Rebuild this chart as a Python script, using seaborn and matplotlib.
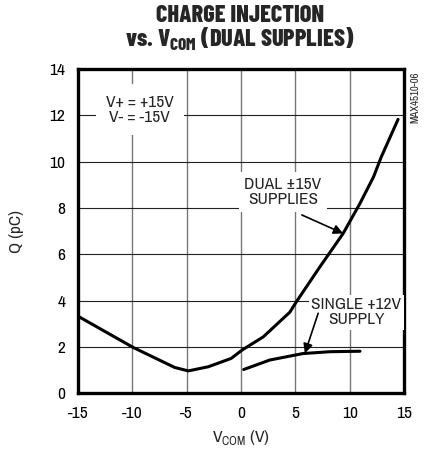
import matplotlib
matplotlib.use("Agg")
import matplotlib.pyplot as plt
import seaborn as sns
import pandas as pd

# ---- data ----
dual_v = [-14.9, -9.9, -6.1, -4.85, -3.0, -0.9, 0.1, 2.05, 4.5, 5.1, 7.25,
          9.4, 10.95, 12.2, 12.9, 14.45]
dual_q = [3.3, 1.97, 1.11, 0.96, 1.14, 1.5, 1.86, 2.43, 3.5, 3.95, 5.45,
          6.9, 8.2, 9.35, 10.2, 11.83]
single_v = [0.25, 2.65, 5.7, 8.2, 10.95]
single_q = [1.02, 1.43, 1.71, 1.79, 1.81]
x_ticks = [-15, -10, -5, 0, 5, 10, 15]
y_ticks = [0, 2, 4, 6, 8, 10, 12, 14]

sns.set_theme(style="white")
BODY = "Archivo Narrow"
TITLE = "Barlow Condensed"
plt.rcParams["font.family"] = [BODY, "DejaVu Sans"]
plt.rcParams["mathtext.fontset"] = "custom"
plt.rcParams["mathtext.rm"] = BODY
plt.rcParams["mathtext.bf"] = TITLE + ":heavy"

dual = pd.DataFrame({"V": dual_v, "Q": dual_q})
single = pd.DataFrame({"V": single_v, "Q": single_q})

fig = plt.figure(figsize=(4.28, 4.55), dpi=100)
ax = fig.add_axes([0.182, 0.136, 0.762, 0.712])

sns.lineplot(data=dual, x="V", y="Q", ax=ax, color="black", linewidth=2.2)
sns.lineplot(data=single, x="V", y="Q", ax=ax, color="black", linewidth=2.2)

FS = 12.5
ax.set_xlim(-15, 15)
ax.set_ylim(0, 14)
ax.set_xticks(x_ticks)
ax.set_yticks(y_ticks)
ax.set_xticklabels([str(t) for t in x_ticks], fontsize=FS)
ax.set_yticklabels([str(t) for t in y_ticks], fontsize=FS)
ax.tick_params(axis="y", length=0, pad=9, colors="black")
ax.tick_params(axis="x", length=0, pad=9, colors="black")
for t in x_ticks[1:-1]:
    ax.axvline(t, color="#777777", linewidth=1.0, zorder=0)
for t in y_ticks[1:-1]:
    ax.axhline(t, color="#222222", linewidth=0.8, zorder=0)
for s in ax.spines.values():
    s.set_linewidth(2.4)
    s.set_color("black")
    s.set_visible(True)

ax.set_xlabel(r"V$_{\mathrm{COM}}$ (V)", fontsize=FS, labelpad=5)
ax.set_ylabel("Q (pC)", fontsize=FS, labelpad=18)

fig.text(0.56, 0.964, "CHARGE INJECTION", ha="center", va="center",
         fontsize=17.5, fontweight="heavy", family=TITLE)
fig.text(0.561, 0.914, r"vs. V$_{\mathbf{COM}}$ (DUAL SUPPLIES)", ha="center",
         va="center", fontsize=17.5, fontweight="heavy", family=TITLE)

ax.text(-9.3, 12.25, "V+ = +15V\nV- = -15V", ha="center", va="center",
        fontsize=FS, linespacing=1.0,
        bbox=dict(facecolor="white", edgecolor="none", boxstyle="square,pad=0.6"))
ax.text(3.85, 8.7, "DUAL ±15V\nSUPPLIES", ha="center", va="center",
        fontsize=FS, linespacing=1.0,
        bbox=dict(facecolor="white", edgecolor="none", boxstyle="square,pad=0.3"))
ax.text(10.6, 3.5, "SINGLE +12V\nSUPPLY", ha="center", va="center",
        fontsize=FS, linespacing=1.0,
        bbox=dict(facecolor="white", edgecolor="none", boxstyle="square,pad=0.15"))
ax.annotate("", xy=(9.4, 6.9), xytext=(5.6, 7.7),
            arrowprops=dict(arrowstyle="-|>", color="black", lw=1.2,
                            mutation_scale=14, shrinkA=0, shrinkB=0))
ax.annotate("", xy=(5.88, 1.72), xytext=(7.1, 3.45),
            arrowprops=dict(arrowstyle="-|>", color="black", lw=1.2,
                            mutation_scale=14, shrinkA=0, shrinkB=0))

fig.text(0.97, 0.787, "MAX4510-06", rotation=90, ha="center", va="center",
         fontsize=7.8)

fig.savefig("out.png", dpi=100)
